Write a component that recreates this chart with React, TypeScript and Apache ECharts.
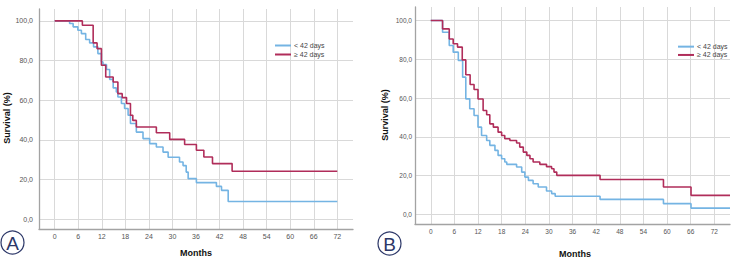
import React, { useEffect, useRef } from 'react';
import * as echarts from 'echarts';

const X_TICKS = [0, 6, 12, 18, 24, 30, 36, 42, 48, 54, 60, 66, 72];
const Y_TICKS = [0, 20, 40, 60, 80, 100];
const SERIES_NAMES = ['< 42 days', '≥ 42 days'];

// Panel A
const A_BLUE_T = [0, 3.8, 4.7, 5.9, 6.8, 7.9, 8.9, 9.9, 11.0, 11.9, 12.3, 13.2, 14.0, 14.9, 15.7, 16.1, 17.0, 17.8, 18.7, 19.3, 20.8, 22.5, 24.2, 25.9, 27.6, 28.9, 31.8, 32.7, 33.5, 34.0, 36.1, 41.2, 42.5, 44.2, 72];
const A_BLUE_V = [100, 98.7, 97, 95.3, 93.6, 90.6, 88.9, 86.9, 83.5, 79.3, 78, 75.5, 70.5, 66.2, 64.1, 61.6, 58.3, 55.8, 52.4, 48.2, 43.9, 40.6, 38.1, 36.4, 33.8, 31.2, 28.8, 27, 23.7, 20.4, 18.4, 16.5, 14.5, 8.9, 8.9];
const A_RED_T = [0, 7.05, 9.8, 10.8, 11.9, 13.0, 14.9, 16.1, 17.2, 18.3, 19.3, 19.9, 20.8, 25.9, 29.3, 33.1, 36.1, 38.0, 40.2, 45.2, 72];
const A_RED_V = [100, 97.8, 88.9, 86, 77.6, 71.7, 69.2, 63.3, 61.3, 58.3, 52.4, 49.8, 46.5, 43.6, 40.2, 37.6, 34.7, 31.3, 28, 24.1, 24.1];

// Panel B
const B_BLUE_T = [0, 3.0, 4.7, 5.7, 7.0, 8.1, 8.9, 9.9, 11.0, 12.0, 12.9, 14.2, 15.0, 16.3, 17.1, 18.0, 18.8, 19.3, 21.8, 23.1, 23.9, 24.8, 26.0, 27.3, 29.4, 30.7, 31.6, 43.0, 59.1, 66.1, 76];
const B_BLUE_V = [100, 94, 87.1, 83.7, 79.4, 70.8, 59.6, 54.5, 51, 45, 40.7, 38.1, 35.6, 33, 30.4, 28.7, 27, 25.8, 24.4, 21.8, 19.2, 17.5, 15.8, 14.1, 12.0, 10.7, 9.3, 7.7, 5.5, 3.2, 3.2];
const B_RED_T = [0, 3.0, 4.7, 5.7, 6.8, 8.0, 8.9, 10.0, 11.0, 12.0, 13.3, 14.2, 15.0, 15.9, 17.1, 18.0, 18.8, 20.1, 21.8, 22.6, 23.5, 24.4, 25.2, 26.0, 27.7, 29.4, 30.7, 31.3, 32.0, 43.0, 59.1, 66.1, 76];
const B_RED_V = [100, 95.7, 90.5, 88, 86.3, 79.7, 72, 67, 64.4, 59.5, 53.6, 51.4, 46.7, 45, 42.4, 40.7, 39, 38.1, 36.8, 34.7, 32.1, 30.4, 28.7, 27, 25.8, 24.6, 23.5, 21.8, 20.1, 18.0, 14.1, 9.8, 9.8];

const FONT = '"Liberation Sans", Arial, sans-serif';
const BLUE = '#74b4e3';
const RED = '#b02d5a';
const NAVY = '#2c3768';

const pairs = (t: number[], v: number[]) => t.map((x, i) => [x, v[i]]);

function xAxisFor(gridIndex: number, fontSize: number, margin: number) {
  return {
    type: 'value',
    gridIndex,
    min: -4,
    max: 76,
    axisLine: { show: true, onZero: false, lineStyle: { color: '#a3a3a3', width: 1.3 } },
    axisTick: { show: false, customValues: X_TICKS },
    axisLabel: { customValues: X_TICKS, fontSize, fontFamily: FONT, color: '#555', margin },
    splitLine: { show: true, lineStyle: { color: '#d9d9d9', width: 1 } },
  };
}

function yAxisFor(gridIndex: number, min: number, max: number, fontSize: number, margin: number) {
  return {
    type: 'value',
    gridIndex,
    min,
    max,
    axisLine: { show: true, onZero: false, lineStyle: { color: '#a3a3a3', width: 1.3 } },
    axisTick: { show: false, customValues: Y_TICKS },
    axisLabel: {
      customValues: Y_TICKS,
      fontSize,
      fontFamily: FONT,
      color: '#555',
      margin,
      formatter: (v: number) => v.toFixed(1).replace('.', ','),
    },
    splitLine: { show: true, lineStyle: { color: '#d9d9d9', width: 1 } },
  };
}

function lineSeries(name: string, idx: number, data: number[][], color: string) {
  return {
    type: 'line',
    name,
    xAxisIndex: idx,
    yAxisIndex: idx,
    step: 'end',
    symbol: 'none',
    showSymbol: false,
    data,
    lineStyle: { color, width: 1.6 },
    itemStyle: { color },
    z: name === SERIES_NAMES[1] ? 3 : 2,
  };
}

function legendAt(left: number, top: number, fontSize: number, lineHeight: number) {
  return {
    left,
    top,
    orient: 'vertical',
    icon: 'rect',
    itemWidth: 16,
    itemHeight: 2,
    itemGap: 0,
    padding: 0,
    selectedMode: false,
    data: SERIES_NAMES,
    textStyle: { fontSize, fontFamily: FONT, color: '#444', lineHeight, padding: [0, 0, 0, -2] },
  };
}

function textEl(text: string, x: number, y: number, font: string, fill: string, rotation = 0) {
  return {
    type: 'text',
    x,
    y,
    rotation,
    style: { text, font, fill, align: 'center', verticalAlign: 'middle' },
  };
}

export default function App() {
  const ref = useRef<HTMLDivElement>(null);
  useEffect(() => {
    if (!ref.current) return;
    const chart = echarts.init(ref.current, null, { renderer: 'svg' });
    chart.setOption({
      animation: false,
      backgroundColor: '#ffffff',
      grid: [
        { left: 39, top: 9, width: 314, height: 220 },
        { left: 415, top: 7, width: 315, height: 217 },
      ],
      xAxis: [xAxisFor(0, 7, 4), xAxisFor(1, 6.5, 4)],
      yAxis: [yAxisFor(0, -5, 106, 7, 6), yAxisFor(1, -5, 107, 6.5, 3)],
      legend: [legendAt(275, 41, 7, 9), legendAt(678, 42.5, 7, 8.3)],
      series: [
        lineSeries(SERIES_NAMES[0], 0, pairs(A_BLUE_T, A_BLUE_V), BLUE),
        lineSeries(SERIES_NAMES[1], 0, pairs(A_RED_T, A_RED_V), RED),
        lineSeries(SERIES_NAMES[0], 1, pairs(B_BLUE_T, B_BLUE_V), BLUE),
        lineSeries(SERIES_NAMES[1], 1, pairs(B_RED_T, B_RED_V), RED),
      ],
      graphic: [
        textEl('Survival (%)', 7, 118, `bold 9px ${FONT}`, '#111', Math.PI / 2),
        textEl('Survival (%)', 385, 115, `bold 9px ${FONT}`, '#111', Math.PI / 2),
        textEl('Months', 196, 253, `bold 9px ${FONT}`, '#111'),
        textEl('Months', 575, 254, `bold 9px ${FONT}`, '#111'),
        { type: 'circle', shape: { cx: 12.5, cy: 242.5, r: 11.5 }, style: { fill: '#fff', stroke: NAVY, lineWidth: 1.2 } },
        textEl('A', 12.5, 243.5, `19px ${FONT}`, NAVY),
        { type: 'circle', shape: { cx: 389.5, cy: 243.5, r: 11.5 }, style: { fill: '#fff', stroke: NAVY, lineWidth: 1.2 } },
        textEl('B', 389.5, 244.5, `19px ${FONT}`, NAVY),
      ],
    });
    return () => chart.dispose();
  }, []);
  return (
    <div
      ref={ref}
      style={{ position: 'fixed', left: 0, top: 0, width: 732, height: 259, background: '#fff' }}
    />
  );
}
